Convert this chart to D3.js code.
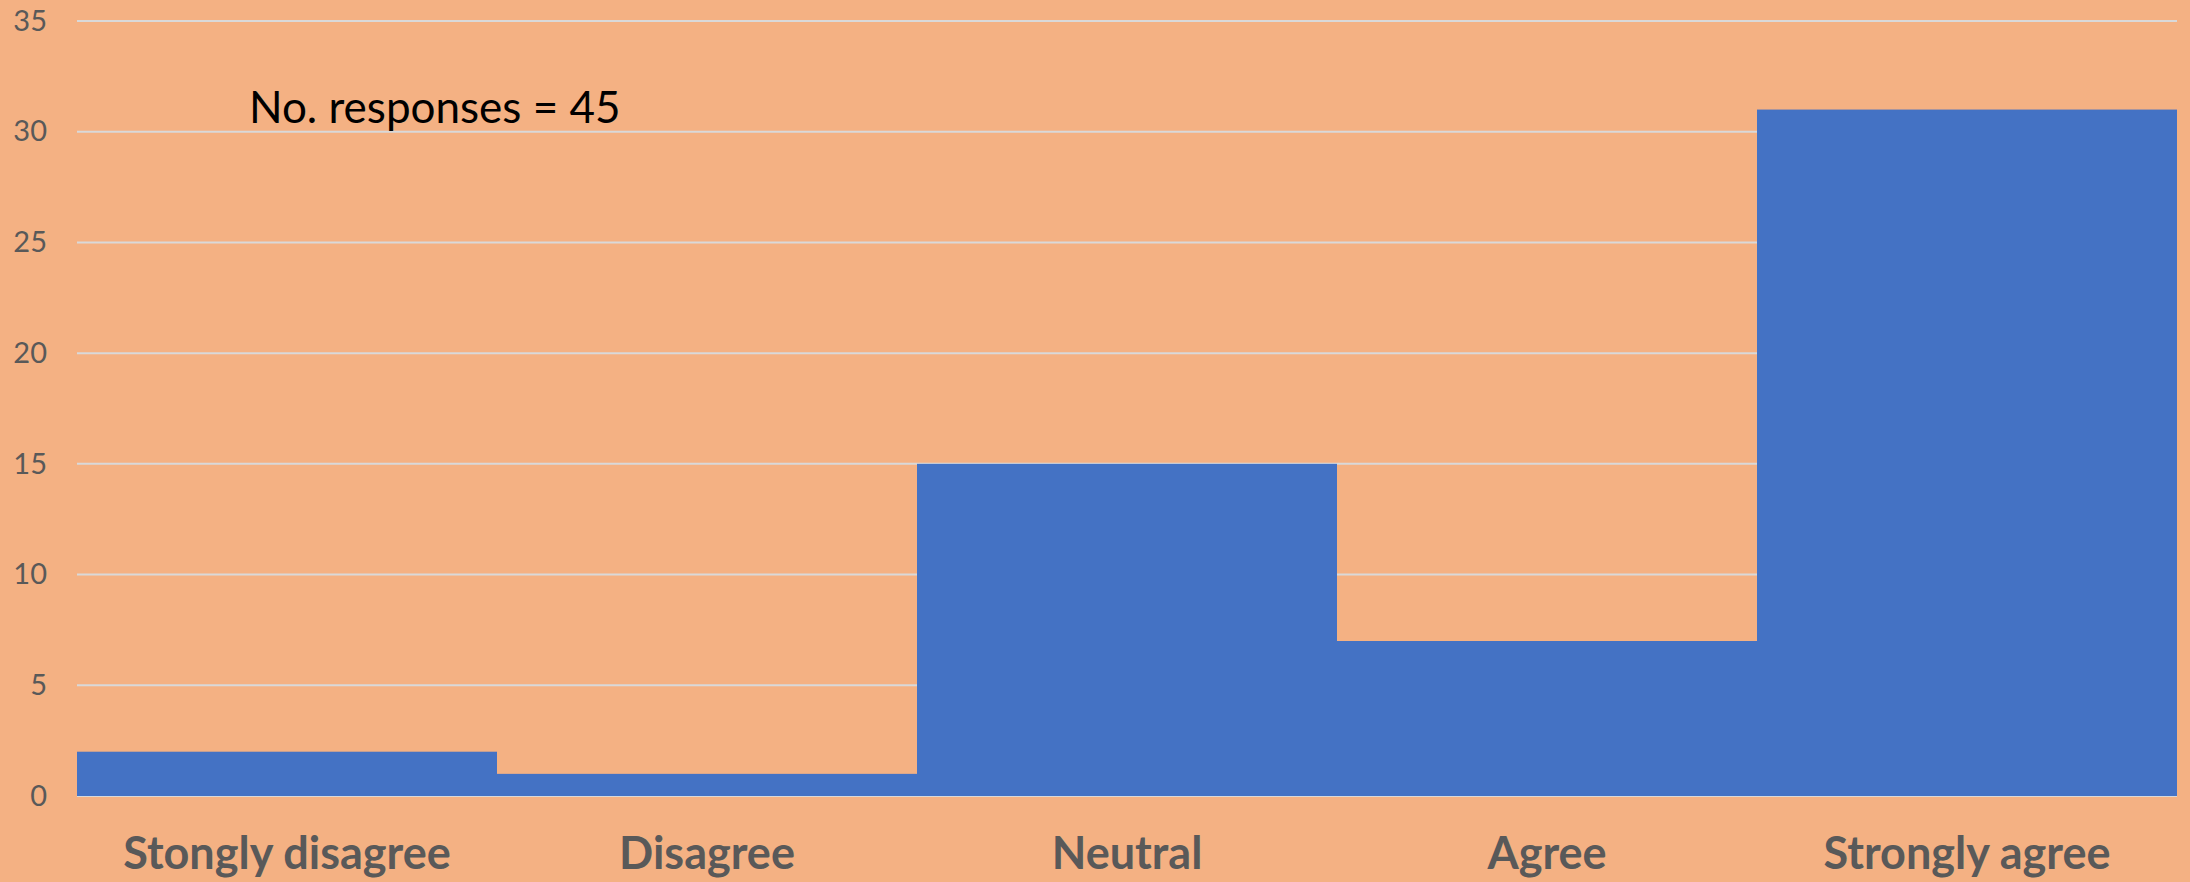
<!DOCTYPE html>
<html>
<head>
<meta charset="utf-8">
<script src="https://cdn.jsdelivr.net/npm/d3@7"></script>
<style>
  html, body { margin: 0; padding: 0; background: #F4B183; }
  svg { display: block; }
</style>
</head>
<body>
<svg id="chart" width="2190" height="882"></svg>
<script>
// Survey responses per agreement level
const categories = ["Stongly disagree", "Disagree", "Neutral", "Agree", "Strongly agree"];
const counts = [2, 1, 15, 7, 31];
const yTicks = [0, 5, 10, 15, 20, 25, 30, 35];
const note = "No. responses = 45";

const W = 2190, H = 882;
const margin = { left: 77, right: 13, top: 21, bottom: 86 };

const svg = d3.select("#chart");

svg.append("rect")
  .attr("width", W).attr("height", H)
  .attr("fill", "#F4B183");

const x = d3.scaleBand()
  .domain(categories)
  .range([margin.left, W - margin.right])
  .paddingInner(0).paddingOuter(0);

const y = d3.scaleLinear()
  .domain([0, 35])
  .range([H - margin.bottom, margin.top]);

// Horizontal gridlines
svg.append("g")
  .selectAll("line")
  .data(yTicks)
  .join("line")
  .attr("x1", margin.left)
  .attr("x2", W - margin.right)
  .attr("y1", d => y(d))
  .attr("y2", d => y(d))
  .attr("stroke", "#D9D9D9")
  .attr("stroke-width", 2);

// Y-axis tick labels
const yAxis = d3.axisLeft(y).tickValues(yTicks).tickSize(0).tickPadding(30);
const gy = svg.append("g")
  .attr("transform", `translate(${margin.left},0)`)
  .call(yAxis);
gy.select(".domain").remove();
gy.selectAll("text")
  .attr("font-family", "Lato, 'Open Sans', sans-serif")
  .attr("font-size", 29)
  .attr("fill", "#595959");

// Bars
svg.append("g")
  .selectAll("rect")
  .data(counts)
  .join("rect")
  .attr("x", (d, i) => x(categories[i]))
  .attr("width", x.bandwidth())
  .attr("y", d => y(d))
  .attr("height", d => y(0) - y(d))
  .attr("fill", "#4472C4");

// Category labels
const xAxis = d3.axisBottom(x).tickSize(0).tickPadding(41);
const gx = svg.append("g")
  .attr("transform", `translate(0,${y(0)})`)
  .call(xAxis);
gx.select(".domain").remove();
gx.selectAll("text")
  .attr("font-family", "Lato, 'Open Sans', sans-serif")
  .attr("font-size", 45)
  .attr("font-weight", "bold")
  .attr("fill", "#595959");

// Response count annotation
svg.append("text")
  .attr("x", 249)
  .attr("y", 123)
  .attr("font-family", "Lato, 'Open Sans', sans-serif")
  .attr("font-size", 44)
  .attr("fill", "#000000")
  .text(note);
</script>
</body>
</html>
